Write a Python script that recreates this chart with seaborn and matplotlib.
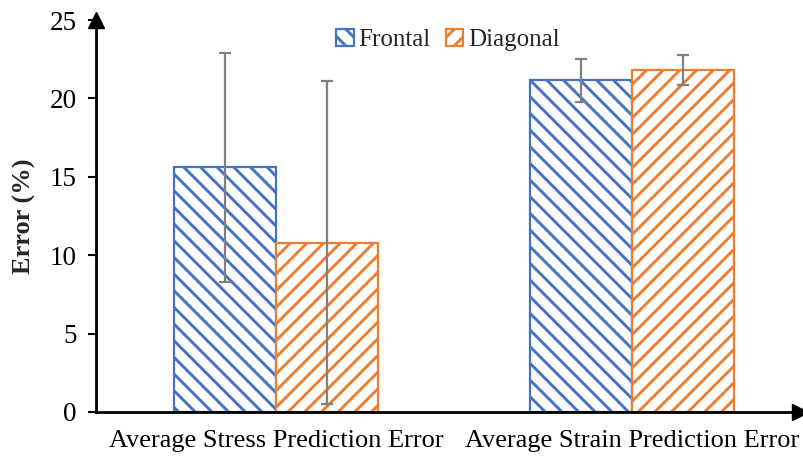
import matplotlib
matplotlib.use("Agg")
import matplotlib.pyplot as plt
from matplotlib.patches import Patch
import seaborn as sns
import pandas as pd
import numpy as np

# Prediction error summary (mean and standard deviation, %)
metrics = ["Average Stress Prediction Error", "Average Strain Prediction Error"]
views = ["Frontal", "Diagonal"]
frontal_mean = [15.6, 21.15]
diagonal_mean = [10.8, 21.8]
frontal_sd = [7.3, 1.35]
diagonal_sd = [10.3, 0.95]

colors = {"Frontal": "#4472C4", "Diagonal": "#ED7D31"}
hatches = {"Frontal": "\\\\", "Diagonal": "//"}

df = pd.DataFrame({
    "metric": metrics * 2,
    "view": ["Frontal"] * 2 + ["Diagonal"] * 2,
    "error": frontal_mean + diagonal_mean,
    "sd": frontal_sd + diagonal_sd,
})

sns.set_theme(style="white")
plt.rcParams["font.family"] = ["Liberation Serif", "DejaVu Serif"]
plt.rcParams["hatch.linewidth"] = 2.1

fig = plt.figure(figsize=(8.04, 4.61), dpi=100)
ax = fig.add_axes([0.1194, 0.1063, 0.8756, 0.8503])

sns.barplot(data=df, x="metric", y="error", hue="view", hue_order=views,
            order=metrics, palette=colors, width=0.573, errorbar=None,
            ax=ax, legend=False)

# Style bars: white fill, coloured hatch and edge; then add error bars
for container, view in zip(ax.containers, views):
    sub = df[df["view"] == view].set_index("metric").loc[metrics]
    xs = []
    for bar in container:
        bar.set_facecolor("white")
        bar.set_edgecolor(colors[view])
        bar.set_hatch(hatches[view])
        bar.set_linewidth(1.6)
        xs.append(bar.get_x() + bar.get_width() / 2)
    ax.errorbar(xs, sub["error"].values, yerr=sub["sd"].values, fmt="none",
                ecolor="#808080", elinewidth=1.6, capsize=4.3, capthick=1.6,
                zorder=5)

ax.set_xlim(-0.506, 1.472)
ax.set_ylim(0, 25)
ax.set_yticks(np.arange(0, 26, 5))
ax.set_xlabel("")
ax.set_ylabel("Error (%)", fontsize=19, fontweight="bold", labelpad=10)
ax.tick_params(axis="y", labelsize=19.5, direction="out", length=6, width=1.5,
               left=True, pad=8, colors="black")
ax.tick_params(axis="x", labelsize=19, length=0, pad=13, colors="black")

for side in ["top", "right"]:
    ax.spines[side].set_visible(False)
for side in ["left", "bottom"]:
    ax.spines[side].set_linewidth(2)
    ax.spines[side].set_color("black")

# Arrow heads at the ends of both axes
ax.plot(0, 1, marker="^", color="black", markersize=11,
        transform=ax.transAxes, clip_on=False)
ax.plot(1, 0, marker=">", color="black", markersize=11,
        transform=ax.transAxes, clip_on=False)

handles = [Patch(facecolor="white", edgecolor=colors[v], hatch=hatches[v],
                 linewidth=1.6) for v in views]
ax.legend(handles, views, loc="upper center", bbox_to_anchor=(0.5, 1.035),
          ncol=2, frameon=False, fontsize=18, handlelength=0.7,
          handleheight=0.7, handletextpad=0.2, columnspacing=0.6)

fig.savefig("out.png", dpi=100)
